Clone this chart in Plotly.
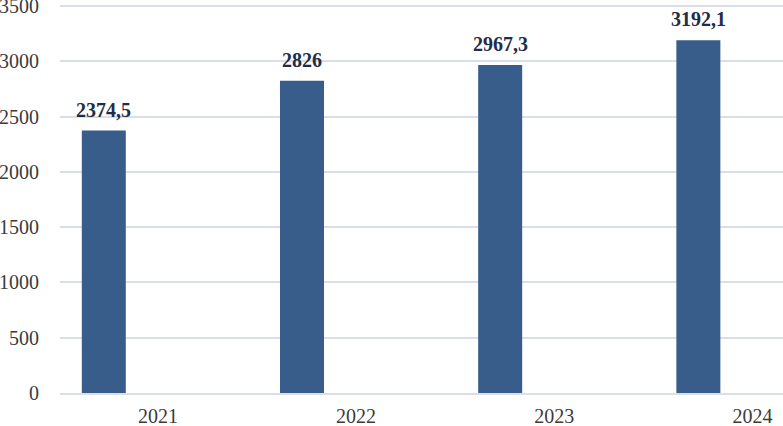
import plotly.graph_objects as go

years = ["2021", "2022", "2023", "2024"]
values = [2374.5, 2826, 2967.3, 3192.1]
labels = ["2374,5", "2826", "2967,3", "3192,1"]
y_ticks = [0, 500, 1000, 1500, 2000, 2500, 3000, 3500]

BAR_CLR = "#385d8a"
GRID_CLR = "#d9dee8"
FONT = "Liberation Serif"
BAR_OFFSET = -0.384
BAR_WIDTH = 0.222

fig = go.Figure()
fig.add_trace(go.Bar(x=years, y=values, marker=dict(color=BAR_CLR, line=dict(width=0)),
                     offset=BAR_OFFSET, width=BAR_WIDTH, hoverinfo="skip"))

# value labels centred on the shifted bars (category index positions)
for i, (v, t) in enumerate(zip(values, labels)):
    fig.add_annotation(x=i + BAR_OFFSET + BAR_WIDTH / 2, y=v, text=f"<b>{t}</b>", showarrow=False,
                       yanchor="bottom", yshift=8, font=dict(family=FONT, size=20, color="#1f2d48"))

fig.update_layout(
    width=783, height=426,
    margin=dict(l=60, r=0, t=4, b=33),
    plot_bgcolor="white", paper_bgcolor="white",
    showlegend=False,
    font=dict(family=FONT, size=20, color="#3b3b3b"),
)
fig.update_xaxes(type="category", range=[-0.494, 3.154], showgrid=False, automargin=False,
                 showline=True, linecolor=GRID_CLR, linewidth=1.5,
                 ticks="outside", ticklen=4, tickcolor="rgba(0,0,0,0)", ticklabeloverflow="allow")
fig.update_yaxes(range=[0, 3520], tickvals=y_ticks, showgrid=True, gridcolor=GRID_CLR, gridwidth=1.5,
                 zeroline=False, showline=False, ticks="outside", ticklen=16, automargin=False,
                 tickcolor="rgba(0,0,0,0)", ticklabeloverflow="allow")

fig.write_html("out.html", config={"displayModeBar": False},
               post_script="document.body.style.margin='0';document.body.style.overflow='hidden';")
